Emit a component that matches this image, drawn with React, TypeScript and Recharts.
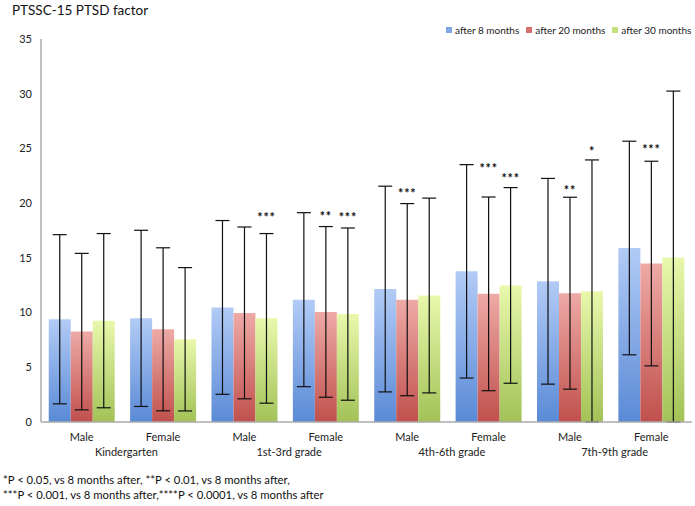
import React from "react";
import { BarChart, Bar, XAxis, YAxis, ErrorBar, LabelList, Legend } from "recharts";

const sexes = ["Male", "Female", "Male", "Female", "Male", "Female", "Male", "Female"];
const groups = ["Kindergarten", "1st-3rd grade", "4th-6th grade", "7th-9th grade"];
const yTicks = [0, 5, 10, 15, 20, 25, 30, 35];

const mean8 = [9.39, 9.47, 10.47, 11.18, 12.15, 13.77, 12.86, 15.9];
const sd8 = [7.73, 8.05, 7.94, 7.95, 9.4, 9.75, 9.4, 9.76];
const mean20 = [8.26, 8.47, 9.97, 10.06, 11.18, 11.71, 11.77, 14.48];
const sd20 = [7.15, 7.45, 7.85, 7.8, 8.78, 8.85, 8.77, 9.35];
const mean30 = [9.26, 7.56, 9.47, 9.86, 11.56, 12.48, 11.95, 15.04];
const sd30 = [7.96, 6.55, 7.75, 7.87, 8.9, 8.94, 12.0, 15.2];

const sig20 = ["", "", "", "**", "***", "***", "**", "***"];
const sigAt20 = [0, 0, 0, 18.69, 20.84, 23.11, 21.08, 24.82];
const sig30 = ["", "", "***", "***", "", "***", "*", ""];
const sigAt30 = [0, 0, 18.63, 18.63, 0, 22.23, 24.68, 0];

const seriesNames = ["after 8 months", "after 20 months", "after 30 months"];
const seriesColors = ["#7fa6e6", "#d5706c", "#c6e07c"];

// error bars are cut off at the axis (0)
const errRange = (m: number, s: number) => [Math.min(s, m), s];

const data = sexes.map((s, i) => ({
  sex: s,
  group: groups[Math.floor(i / 2)],
  m8: mean8[i],
  e8: errRange(mean8[i], sd8[i]),
  m20: mean20[i],
  e20: errRange(mean20[i], sd20[i]),
  m30: mean30[i],
  e30: errRange(mean30[i], sd30[i]),
  s20: sig20[i],
  s30: sig30[i],
}));

const FONT = "Lato, 'Open Sans', sans-serif";

const makeStar = (means: number[], ats: number[]) => (props: any) => {
  const { x, y, width, height, value, index } = props;
  if (!value) return null;
  const base = Number(y) + Number(height);
  const per = Number(height) / means[index];
  const py = base - ats[index] * per;
  return (
    <text
      x={Number(x) + Number(width) / 2}
      y={py + 4}
      textAnchor="middle"
      fontFamily={FONT}
      fontSize={12.5}
      fontWeight="bold"
      fill="#111"
      letterSpacing={0.8}
    >
      {value}
    </text>
  );
};

const XTick = (props: any) => {
  const { x, y, payload, index } = props;
  const off = payload && payload.offset ? payload.offset : 40.7;
  return (
    <g>
      <text x={x} y={y + 11} textAnchor="middle" fontFamily={FONT} fontSize={11} fill="#222">
        {payload.value}
      </text>
      {index % 2 === 1 ? (
        <text x={x - off + 4} y={y + 26} textAnchor="middle" fontFamily={FONT} fontSize={11} fill="#222">
          {data[index].group}
        </text>
      ) : null}
    </g>
  );
};

const LegendContent = () => (
  <div style={{ display: "flex", fontFamily: FONT, fontSize: 10, color: "#222", whiteSpace: "nowrap" }}>
    {seriesNames.map((n, i) => (
      <div key={n} style={{ display: "flex", alignItems: "center", marginRight: i < 2 ? 7 : 0 }}>
        <span style={{ display: "inline-block", width: 6, height: 6, background: seriesColors[i], marginRight: 3 }} />
        <span>{n}</span>
      </div>
    ))}
  </div>
);

export default function App() {
  return (
    <div style={{ position: "absolute", left: 0, top: 0, width: 695, height: 506, background: "#fff" }}>
      <div style={{ position: "absolute", left: 12, top: 2, fontFamily: FONT, fontSize: 13.5, color: "#111", whiteSpace: "nowrap" }}>
        PTSSC-15 PTSD factor
      </div>
      <BarChart
        width={695}
        height={506}
        data={data}
        margin={{ top: 27, right: 3, left: 0, bottom: 44 }}
        barCategoryGap="9.5%"
        barGap={0}
      >
        <defs>
          <linearGradient id="gBlue" x1="0" y1="0" x2="0" y2="1">
            <stop offset="0%" stopColor="#b2cbf6" />
            <stop offset="100%" stopColor="#5a8ad6" />
          </linearGradient>
          <linearGradient id="gRed" x1="0" y1="0" x2="0" y2="1">
            <stop offset="0%" stopColor="#eeaaa6" />
            <stop offset="100%" stopColor="#c0504d" />
          </linearGradient>
          <linearGradient id="gGreen" x1="0" y1="0" x2="0" y2="1">
            <stop offset="0%" stopColor="#e9f8ac" />
            <stop offset="100%" stopColor="#a2c257" />
          </linearGradient>
        </defs>
        <XAxis
          dataKey="sex"
          tick={<XTick />}
          tickLine={false}
          axisLine={{ stroke: "#aaaaaa", strokeWidth: 1.5 }}
          interval={0}
          height={40}
        />
        <YAxis
          domain={[0, 35]}
          ticks={yTicks}
          allowDataOverflow
          width={41}
          tickLine={false}
          tickMargin={3}
          axisLine={{ stroke: "#aaaaaa", strokeWidth: 1.5 }}
          tick={{ fontFamily: FONT, fontSize: 11, fill: "#222" }}
        />
        <Legend
          verticalAlign="top"
          content={<LegendContent />}
          wrapperStyle={{ position: "absolute", top: 24, left: 446, width: 250 }}
        />
        <Bar dataKey="m8" name={seriesNames[0]} fill="url(#gBlue)" isAnimationActive={false}>
          <ErrorBar dataKey="e8" width={7} strokeWidth={1.2} stroke="#111" direction="y" />
        </Bar>
        <Bar dataKey="m20" name={seriesNames[1]} fill="url(#gRed)" isAnimationActive={false}>
          <ErrorBar dataKey="e20" width={7} strokeWidth={1.2} stroke="#111" direction="y" />
          <LabelList dataKey="s20" content={makeStar(mean20, sigAt20)} />
        </Bar>
        <Bar dataKey="m30" name={seriesNames[2]} fill="url(#gGreen)" isAnimationActive={false}>
          <ErrorBar dataKey="e30" width={7} strokeWidth={1.2} stroke="#111" direction="y" />
          <LabelList dataKey="s30" content={makeStar(mean30, sigAt30)} />
        </Bar>
      </BarChart>
      <div style={{ position: "absolute", left: 3, top: 472, fontFamily: FONT, fontSize: 11.3, color: "#111", lineHeight: "15px", whiteSpace: "nowrap" }}>
        *P &lt; 0.05, vs 8 months after, **P &lt; 0.01, vs 8 months after,
        <br />
        ***P &lt; 0.001, vs 8 months after,****P &lt; 0.0001, vs 8 months after
      </div>
    </div>
  );
}
